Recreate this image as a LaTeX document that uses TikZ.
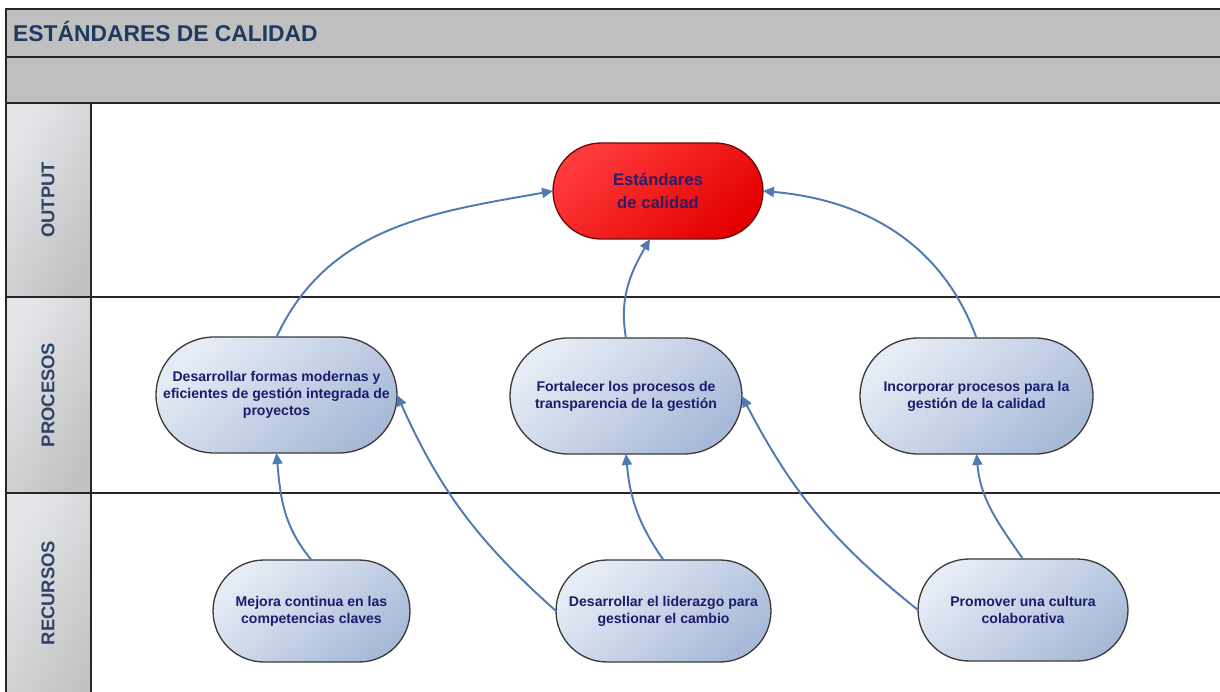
\documentclass[tikz,border=0pt]{standalone}
\usepackage{fontspec}
\setmainfont{Liberation Sans}
\usetikzlibrary{shapes.misc,arrows.meta}

\definecolor{bandgray}{HTML}{C0C0C0}
\definecolor{framedark}{HTML}{262626}
\definecolor{headlight}{HTML}{E4E6EA}
\definecolor{headdark}{HTML}{C2C2C2}
\definecolor{titleblue}{HTML}{1F3A60}
\definecolor{lanetext}{HTML}{2C4468}
\definecolor{nodelight}{HTML}{E6ECF5}
\definecolor{nodedark}{HTML}{A8BAD8}
\definecolor{nodeborder}{HTML}{3A3A3A}
\definecolor{nodetext}{HTML}{1B1B6E}
\definecolor{redlight}{HTML}{FF3A3A}
\definecolor{reddark}{HTML}{E40000}
\definecolor{redborder}{HTML}{6A0A0A}
\definecolor{redtext}{HTML}{2E1C6A}
\definecolor{arrowblue}{HTML}{4F7AB3}

\tikzset{
  frameline/.style={draw=framedark, line width=1.1pt},
  laneline/.style={draw=framedark, line width=0.9pt},
  lanehead/.style={top color=headlight, bottom color=headdark, shading angle=60},
  lanelabel/.style={rotate=90, text=lanetext, font=\bfseries\fontsize{10.5}{12}\selectfont},
  pillbox/.style={rounded rectangle, draw=nodeborder, line width=0.75pt,
    top color=nodelight, bottom color=nodedark, shading angle=40,
    text=nodetext, align=center, inner sep=0pt, outer sep=0pt,
    font=\bfseries\fontsize{8}{9.6}\selectfont},
  goalbox/.style={rounded rectangle, draw=redborder, line width=0.75pt,
    top color=redlight, bottom color=reddark, shading angle=40,
    text=redtext, align=center, inner sep=0pt, outer sep=0pt,
    font=\bfseries\fontsize{9.5}{13}\selectfont},
  flow/.style={draw=arrowblue, line width=1.1pt,
    -{Triangle[length=0.22cm,width=0.2cm]}}
}

\begin{document}
\begin{tikzpicture}[x=0.02cm, y=0.02cm]
  \useasboundingbox (0,0) rectangle (1220,-692);
  \clip (0,0) rectangle (1220,-692);
  \fill[white] (0,0) rectangle (1220,-692);

  % title and blank header bands
  \filldraw[fill=bandgray, frameline] (6,-9) rectangle (1240,-57);
  \filldraw[fill=bandgray, frameline] (6,-57) rectangle (1240,-103);
  \node[anchor=west, text=titleblue, font=\bfseries\fontsize{13}{15}\selectfont]
    (title) at (7,-31) {ESTÁNDARES DE CALIDAD};

  % lane header cells
  \shade[lanehead] (6,-103) rectangle (91,-297);
  \shade[lanehead] (6,-297) rectangle (91,-493);
  \shade[lanehead] (6,-493) rectangle (91,-720);
  \draw[frameline] (6,-103) rectangle (91,-297);
  \draw[frameline] (6,-297) rectangle (91,-493);
  \draw[frameline] (6,-493) rectangle (91,-720);
  \node[lanelabel] (lout)  at (48,-200) {OUTPUT};
  \node[lanelabel] (lproc) at (48,-395) {PROCESOS};
  \node[lanelabel] (lrec)  at (48,-593) {RECURSOS};

  % lane separators
  \draw[laneline] (91,-103) -- (1240,-103);
  \draw[laneline] (91,-297) -- (1240,-297);
  \draw[laneline] (91,-493) -- (1240,-493);

  % output
  \node[goalbox, minimum width=4.2cm, minimum height=1.92cm] (est) at (658,-191)
    {Estándares\\de calidad};

  % processes
  \node[pillbox, minimum width=4.82cm, minimum height=2.32cm] (dfm) at (276.5,-395)
    {Desarrollar formas modernas y\\eficientes de gestión integrada de\\proyectos};
  \node[pillbox, minimum width=4.64cm, minimum height=2.32cm] (fort) at (626,-396)
    {Fortalecer los procesos de\\transparencia de la gestión};
  \node[pillbox, minimum width=4.66cm, minimum height=2.32cm] (inc) at (976.5,-396)
    {Incorporar procesos para la\\gestión de la calidad};

  % resources
  \node[pillbox, minimum width=3.94cm, minimum height=2.04cm] (mej) at (311.5,-611)
    {Mejora continua en las\\competencias claves};
  \node[pillbox, minimum width=4.3cm, minimum height=2.04cm] (lid) at (663.5,-611)
    {Desarrollar el liderazgo para\\gestionar el cambio};
  \node[pillbox, minimum width=4.2cm, minimum height=2.04cm] (prom) at (1023,-610)
    {Promover una cultura\\colaborativa};

  % connectors
  \draw[flow] (dfm.north) to[out=65,in=190] (est.west);
  \draw[flow] (fort.north) to[out=100,in=-120] ([xshift=-0.16cm]est.south);
  \draw[flow] (inc.north) to[out=110,in=-5] (est.east);
  \draw[flow] (mej.north) to[out=130,in=-85] (dfm.south);
  \draw[flow] (lid.west) to[bend left=12] (dfm.east);
  \draw[flow] (lid.north) to[out=125,in=-85] (fort.south);
  \draw[flow] (prom.west) to[bend left=12] (fort.east);
  \draw[flow] (prom.north) to[out=125,in=-85] (inc.south);
\end{tikzpicture}
\end{document}
